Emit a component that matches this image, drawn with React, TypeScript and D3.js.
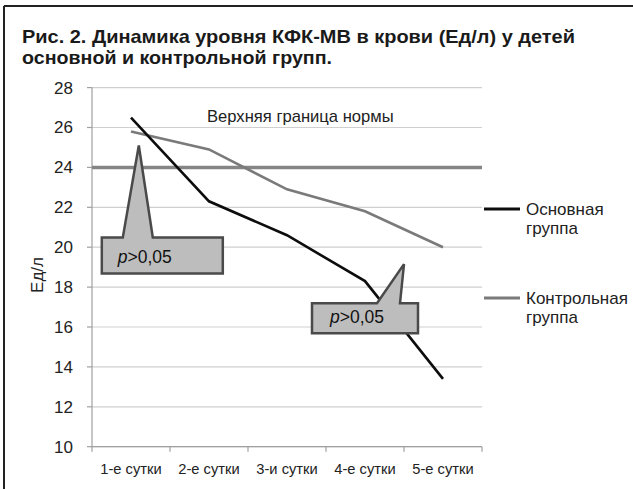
import React from "react";
import * as d3 from "d3";

const categories = ["1-е сутки", "2-е сутки", "3-и сутки", "4-е сутки", "5-е сутки"];
const mainGroup = [26.5, 22.3, 20.6, 18.3, 13.4];
const controlGroup = [25.8, 24.9, 22.9, 21.8, 20.0];
const normLimit = 24;
const yTicks = [10, 12, 14, 16, 18, 20, 22, 24, 26, 28];
const seriesNames = ["Основная группа", "Контрольная группа"];
const titleLines = [
  "Рис. 2. Динамика уровня КФК-МВ в крови (Ед/л) у детей",
  "основной и контрольной групп.",
];
// callout tips in data space: [category index, value]
const calloutTips: [number, number][] = [
  [0.1, 25.1],
  [3.5, 19.15],
];
const calloutText = ["p", ">0,05"];

const W = 633;
const H = 489;
const FONT = "'Liberation Sans', Arial, sans-serif";

export default function App() {
  const left = 92, right = 482, top = 87.6, bottom = 446.7;
  const x = d3.scaleBand<string>().domain(categories).range([left, right]).padding(0);
  const bw = x.bandwidth();
  const cx = (i: number) => left + bw * (i + 0.5);
  const y = d3.scaleLinear().domain([10, 28]).range([bottom, top]);

  const line = d3
    .line<number>()
    .x((_, i) => cx(i))
    .y((d) => y(d));

  // callout geometry (pixel offsets relative to tip)
  const callouts = [
    { box: [-37, 84, 92, 128], base: [-16, 14], text: [-21, 118] },
    { box: [-92, 14, 39, 69], base: [-27, -4], text: [-74, 59] },
  ];

  return (
    <svg width={W} height={H} style={{ position: "absolute", left: 0, top: 0, background: "#fff" }} fontFamily={FONT}>
      <rect x={0} y={0} width={W} height={H} fill="#fff" />
      {/* frame */}
      <line x1={4} y1={6} x2={W} y2={6} stroke="#222" strokeWidth={2} />
      <line x1={4} y1={6} x2={4} y2={H} stroke="#222" strokeWidth={2} />

      {/* title */}
      {titleLines.map((t, i) => (
        <text
          key={i}
          x={22}
          y={43 + i * 21}
          fontSize={18.5}
          fontWeight="bold"
          fill="#1a1a1a"
          textLength={i === 0 ? 553 : 310}
          lengthAdjust="spacingAndGlyphs"
        >
          {t}
        </text>
      ))}

      {/* gridlines */}
      {yTicks.map((t) => (
        <line key={t} x1={left} x2={right} y1={y(t)} y2={y(t)} stroke="#cfcfcf" strokeWidth={1.2} />
      ))}
      {/* y axis */}
      <line x1={left} x2={left} y1={top} y2={bottom + 5} stroke="#a0a0a0" strokeWidth={1.2} />
      {yTicks.map((t) => (
        <g key={t}>
          <line x1={left - 5} x2={left} y1={y(t)} y2={y(t)} stroke="#a0a0a0" strokeWidth={1.2} />
          <text x={73} y={y(t)} dy="0.35em" textAnchor="end" fontSize={17} fill="#222">
            {t}
          </text>
        </g>
      ))}
      {/* x axis */}
      <line x1={left} x2={right} y1={bottom} y2={bottom} stroke="#a0a0a0" strokeWidth={1.2} />
      {categories.map((c, i) => (
        <g key={c}>
          <line x1={x(c)! + bw} x2={x(c)! + bw} y1={bottom} y2={bottom + 5} stroke="#a0a0a0" strokeWidth={1.2} />
          <text x={cx(i)} y={474} textAnchor="middle" fontSize={14.7} fill="#222">
            {c}
          </text>
        </g>
      ))}

      <text x={37} y={275} transform="rotate(-90 37 275)" textAnchor="middle" dy="0.35em" fontSize={17} fill="#222">
        Ед/л
      </text>

      {/* norm line */}
      <line x1={left} x2={right} y1={y(normLimit)} y2={y(normLimit)} stroke="#858585" strokeWidth={3.5} />
      <text x={207} y={122} fontSize={16.6} fill="#222">
        Верхняя граница нормы
      </text>

      {/* series */}
      <path d={line(controlGroup)!} fill="none" stroke="#7a7a7a" strokeWidth={2.6} />
      <path d={line(mainGroup)!} fill="none" stroke="#0d0d0d" strokeWidth={2.6} />

      {/* callouts */}
      {calloutTips.map(([ix, v], k) => {
        const tx = left + bw * (ix + 0.5);
        const ty = y(v);
        const c = callouts[k];
        const [x0, x1, y0, y1] = c.box;
        const pts = [
          [tx + x0, ty + y0],
          [tx + c.base[0], ty + y0],
          [tx, ty],
          [tx + c.base[1], ty + y0],
          [tx + x1, ty + y0],
          [tx + x1, ty + y1],
          [tx + x0, ty + y1],
        ];
        return (
          <g key={k}>
            <polygon
              points={pts.map((p) => p.join(",")).join(" ")}
              fill="#bdbdbd"
              stroke="#4a4a4a"
              strokeWidth={2.5}
              strokeLinejoin="miter"
            />
            <text x={tx + c.text[0]} y={ty + c.text[1]} fontSize={17.5} fill="#111">
              <tspan fontStyle="italic">{calloutText[0]}</tspan>
              <tspan>{calloutText[1]}</tspan>
            </text>
          </g>
        );
      })}

      {/* legend */}
      {seriesNames.map((name, i) => {
        const ly = i === 0 ? 209 : 298;
        const [a, b] = name.split(" ");
        return (
          <g key={name}>
            <line x1={484} x2={520} y1={ly} y2={ly} stroke={i === 0 ? "#0d0d0d" : "#7a7a7a"} strokeWidth={3} />
            <text x={526} y={ly + 6} fontSize={17} fill="#222">
              {a}
            </text>
            <text x={526} y={ly + 25} fontSize={17} fill="#222">
              {b}
            </text>
          </g>
        );
      })}
    </svg>
  );
}
